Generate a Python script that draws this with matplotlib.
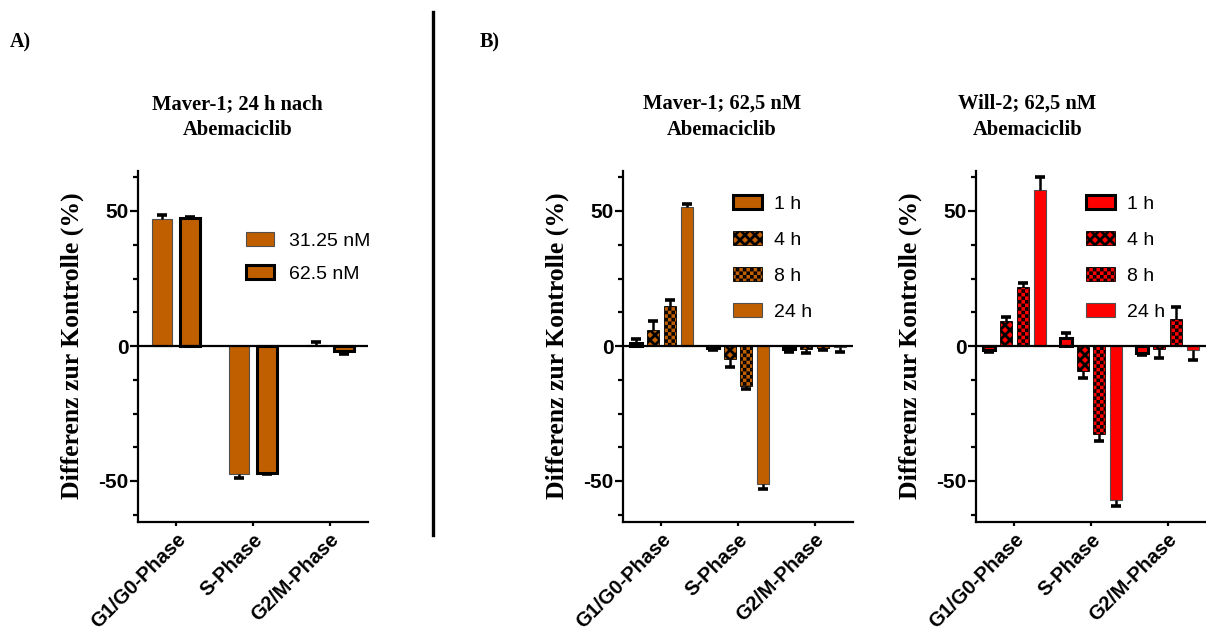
import warnings
warnings.filterwarnings("ignore")
import numpy as np
import matplotlib
matplotlib.use("Agg")
import matplotlib.pyplot as plt
import matplotlib.hatch as mhatch
from matplotlib.path import Path
from matplotlib.ticker import MultipleLocator
from matplotlib.lines import Line2D

# ---------------- data ----------------
categories = ["G1/G0-Phase", "S-Phase", "G2/M-Phase"]

# Panel A: Maver-1, 24 h
a_labels = ["31.25 nM", "62.5 nM"]
a_31 = [47.0, -47.5, 0.3]
a_31_err = [1.5, 1.3, 1.3]
a_62 = [47.3, -46.9, -1.8]
a_62_err = [0.4, 0.6, 1.1]

# Panel B: time course, 62.5 nM
time_labels = ["1 h", "4 h", "8 h", "24 h"]
maver_1h = [1.0, -0.9, -1.2]
maver_4h = [5.8, -4.8, -1.1]
maver_8h = [15.0, -14.8, -0.6]
maver_24h = [51.4, -51.2, -0.2]
maver_1h_err = [1.5, 0.6, 0.9]
maver_4h_err = [3.5, 2.9, 1.4]
maver_8h_err = [2.2, 1.1, 0.8]
maver_24h_err = [1.2, 1.8, 1.9]

will_1h = [-1.4, 3.1, -2.6]
will_4h = [9.4, -9.3, -1.0]
will_8h = [21.8, -32.7, 10.1]
will_24h = [57.7, -57.0, -1.4]
will_1h_err = [0.8, 1.7, 0.8]
will_4h_err = [1.3, 2.7, 3.4]
will_8h_err = [1.4, 2.3, 4.3]
will_24h_err = [5.0, 2.2, 3.6]

titles = ["Maver-1; 24 h nach\nAbemaciclib",
          "Maver-1; 62,5 nM\nAbemaciclib",
          "Will-2; 62,5 nM\nAbemaciclib"]
ylabel = "Differenz zur Kontrolle (%)"

ORANGE = "#C05F00"
RED = "#FF0000"

# ---------------- custom hatches ----------------
plt.rcParams["hatch.linewidth"] = 2.0


class CheckerHatch(mhatch.HatchPatternBase):
    def __init__(self, hatch, density):
        self.n = 28 if "c" in hatch else 0
        self.num_vertices = (self.n * self.n // 2) * 5

    def set_vertices_and_codes(self, vertices, codes):
        n = self.n
        s = 1.0 / n
        shrink = min(plt.rcParams["hatch.linewidth"] / 72.0, s * 0.85)
        side = s - shrink
        k = 0
        for i in range(n):
            for j in range(n):
                if (i + j) % 2 == 0:
                    x0 = i * s + shrink / 2
                    y0 = j * s + shrink / 2
                    vertices[k:k + 5] = [(x0, y0), (x0 + side, y0),
                                         (x0 + side, y0 + side),
                                         (x0, y0 + side), (x0, y0)]
                    codes[k:k + 5] = [Path.MOVETO, Path.LINETO, Path.LINETO,
                                      Path.LINETO, Path.CLOSEPOLY]
                    k += 5


class DiagCrossHatch(mhatch.HatchPatternBase):
    def __init__(self, hatch, density):
        self.n = 10 if "k" in hatch else 0
        self.num_vertices = (2 * self.n + 1) * 4 if self.n else 0

    def set_vertices_and_codes(self, vertices, codes):
        cs = np.arange(-self.n, self.n + 1) / self.n
        m = len(cs)
        vertices[0:2 * m:2] = np.column_stack([np.zeros(m), cs])
        vertices[1:2 * m:2] = np.column_stack([np.ones(m), cs + 1])
        vertices[2 * m::2] = np.column_stack([np.zeros(m), cs + 1])
        vertices[2 * m + 1::2] = np.column_stack([np.ones(m), cs])
        codes[0::2] = Path.MOVETO
        codes[1::2] = Path.LINETO


mhatch._hatch_types.append(CheckerHatch)
mhatch._hatch_types.append(DiagCrossHatch)
mhatch._validate_hatch_pattern = lambda h: None

SANS = ["Liberation Sans", "DejaVu Sans"]
SERIF = ["Liberation Serif", "DejaVu Serif"]
plt.rcParams["font.family"] = SANS

W, H = 1206, 637
fig = plt.figure(figsize=(W / 100, H / 100), dpi=100)

bottom = 115.5 / H
height = 351 / H
width = 230 / W
lefts = [138 / W, 623 / W, 976 / W]
axes = [fig.add_axes([l, bottom, width, height]) for l in lefts]

x = np.arange(len(categories))


def err_bars(ax, xpos, vals, errs):
    vals = np.asarray(vals)
    errs = np.asarray(errs)
    sign = np.where(vals >= 0, 1.0, -1.0)
    tips = vals + sign * errs
    ax.vlines(xpos, vals, tips, colors="black", lw=1.8, zorder=4)
    ax.plot(xpos, tips, ls="none", marker="_", ms=7, mew=2.6,
            color="black", zorder=4)


def style_axis(ax, title_x, title):
    ax.set_xlim(-0.5, 2.5)
    ax.set_ylim(-65, 65)
    ax.axhline(0, color="black", lw=1.6, zorder=3)
    for s in ["top", "right"]:
        ax.spines[s].set_visible(False)
    for s in ["left", "bottom"]:
        ax.spines[s].set_linewidth(1.6)
    ax.set_yticks([-50, 0, 50])
    ax.set_yticklabels(["-50", "0", "50"], fontsize=15, fontweight="bold")
    ax.yaxis.set_minor_locator(MultipleLocator(12.5))
    ax.tick_params(axis="y", which="major", length=6, width=1.6, pad=1)
    ax.tick_params(axis="y", which="minor", length=3.5, width=1.6)
    ax.set_xticks(x)
    ax.set_xticklabels(categories, rotation=45, ha="right",
                       rotation_mode="anchor", fontsize=14.5,
                       fontweight="bold")
    ax.tick_params(axis="x", length=3, width=1.6, pad=3)
    ax.set_ylabel(ylabel, fontsize=18.5, fontweight="bold", family=SERIF)
    ax.yaxis.set_label_coords(-0.235, 0.5)
    fig.text(title_x / W, 1 - 117 / H, title, ha="center", va="center",
             fontsize=14.8, fontweight="bold", family=SERIF, linespacing=1.45)


# ---------------- Panel A ----------------
ax = axes[0]
off = 0.183
bw = 0.26
ax.bar(x - off, a_31, bw, color=ORANGE, edgecolor="#505050", lw=0.8,
       label=a_labels[0], zorder=2)
ax.bar(x + off, a_62, bw, color=ORANGE, edgecolor="black", lw=2.2,
       label=a_labels[1], zorder=2)
err_bars(ax, x - off, a_31, a_31_err)
err_bars(ax, x + off, a_62, a_62_err)
style_axis(ax, 237.5, titles[0])
ax.legend(loc="upper left", bbox_to_anchor=(246 / W, 1 - 232 / H),
          bbox_transform=fig.transFigure, frameon=False, fontsize=14,
          borderpad=0, borderaxespad=0, handlelength=1.45,
          handleheight=0.75, handletextpad=0.75, labelspacing=0.78)

# ---------------- Panel B ----------------
offsets = [-0.33, -0.11, 0.11, 0.33]
bwb = 0.155
hatches = [None, "k", "c", None]
edge_c = ["black", "black", "black", "#505050"]
edge_w = [2.2, 0.6, 0.6, 0.8]

datasets = [
    ([maver_1h, maver_4h, maver_8h, maver_24h],
     [maver_1h_err, maver_4h_err, maver_8h_err, maver_24h_err], ORANGE,
     721.7, 733),
    ([will_1h, will_4h, will_8h, will_24h],
     [will_1h_err, will_4h_err, will_8h_err, will_24h_err], RED,
     1027.5, 1086),
]
for ax, (series, errs, col, tx, lx), title in zip(axes[1:], datasets,
                                                  titles[1:]):
    for i in range(4):
        ax.bar(x + offsets[i], series[i], bwb, color=col,
               edgecolor=edge_c[i], lw=edge_w[i], hatch=hatches[i],
               label=time_labels[i], zorder=2)
        err_bars(ax, x + offsets[i], series[i], errs[i])
    style_axis(ax, tx, title)
    ax.legend(loc="upper left", bbox_to_anchor=(lx / W, 1 - 195 / H),
              bbox_transform=fig.transFigure, frameon=False, fontsize=14,
              borderpad=0, borderaxespad=0, handlelength=1.5,
              handleheight=0.75, handletextpad=0.6, labelspacing=0.93)

# ---------------- panel letters & divider ----------------
fig.text(10 / W, 1 - 42 / H, "A)", fontsize=14.5, fontweight="bold",
         family=SERIF, ha="left", va="center")
fig.text(480 / W, 1 - 42 / H, "B)", fontsize=14.5, fontweight="bold",
         family=SERIF, ha="left", va="center")
fig.add_artist(Line2D([433 / W, 433 / W], [1 - 12 / H, 1 - 535 / H],
                      color="black", lw=2.4, transform=fig.transFigure))

fig.savefig("out.png", dpi=100)
